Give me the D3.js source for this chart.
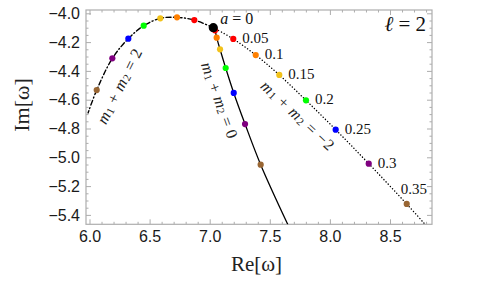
<!DOCTYPE html>
<html>
<head>
<meta charset="utf-8">
<script src="https://cdn.jsdelivr.net/npm/d3@7"></script>
<style>
  body { margin: 0; background: #fff; }
  svg { display: block; }
</style>
</head>
<body>
<svg id="chart" width="498" height="284"></svg>
<script>
// spin values and dot colours (a = 0.05 ... 0.35)
const spins = ['0.05', '0.1', '0.15', '0.2', '0.25', '0.3', '0.35']
const dotColors = ['#ff0000', '#ff8000', '#f2c21a', '#00ff00', '#0000ff', '#800080', '#996633']

// a = 0 (all branches meet here)
const startRe = 7.030
const startIm = -4.100

// m1 + m2 = 0 (solid)
const solidRe = [7.044, 7.058, 7.086, 7.133, 7.200, 7.294, 7.424]
const solidIm = [-4.118, -4.169, -4.250, -4.380, -4.553, -4.769, -5.051]
const solidTail = [7.649, -5.465]

// m1 + m2 = 2 (dot dashed)
const dashRe = [6.872, 6.728, 6.589, 6.451, 6.323, 6.190, 6.060]
const dashIm = [-4.047, -4.028, -4.035, -4.086, -4.176, -4.313, -4.533]
const dashTail = [5.988, -4.692]

// m1 + m2 = -2 (dotted)
const dotRe = [7.196, 7.383, 7.579, 7.801, 8.048, 8.323, 8.639]
const dotIm = [-4.178, -4.290, -4.428, -4.604, -4.808, -5.044, -5.324]
const dotTail = [8.791, -5.465]

// ticks
const xMajor = [6.0, 6.5, 7.0, 7.5, 8.0, 8.5]
const yMajor = [-4.0, -4.2, -4.4, -4.6, -4.8, -5.0, -5.2, -5.4]

const svg = d3.select('#chart')

const frameL = 86, frameR = 432, frameT = 10, frameB = 224.3

// 6.0 -> 89.5px, 120.2 px per unit ; -4.0 -> 13.3px, 144 px per unit
let x = d3.scaleLinear()
    .domain([6 - 3.5 / 120.2, 6 + (frameR - 89.5) / 120.2])
    .range([frameL, frameR])
let y = d3.scaleLinear()
    .domain([-4 + 3.3 / 144, -4 - (frameB - 13.3) / 144])
    .range([frameT, frameB])

let xMinor = d3.range(60, 89).map(d => d / 10).filter(d => !xMajor.some(m => Math.abs(m - d) < 1e-6))
let yMinor = d3.range(-80, -109, -1).map(d => d / 20).filter(d => !yMajor.some(m => Math.abs(m - d) < 1e-6))

const frameColor = '#adadad'

function tickAxes(axisFn, scale, pos, values, size, labels) {
    let g = svg.append('g')
        .attr('transform', pos)
        .call(axisFn(scale).tickValues(values).tickSizeInner(-size).tickSizeOuter(0)
            .tickPadding(labels ? 6 : 0)
            .tickFormat(labels ? (d => d3.format('.1f')(d).replace('-', '\u2212')) : ''))
    g.select('.domain').remove()
    g.selectAll('.tick line').attr('stroke', frameColor)
    g.selectAll('.tick text')
        .style('font-family', '"Liberation Sans", Arial, sans-serif')
        .style('font-size', '16px')
        .attr('fill', '#1a1a1a')
    return g
}

// bottom / top
tickAxes(d3.axisBottom, x, `translate(0,${frameB})`, xMajor, 5, true)
tickAxes(d3.axisBottom, x, `translate(0,${frameB})`, xMinor, 2.5, false)
tickAxes(d3.axisTop, x, `translate(0,${frameT})`, xMajor, 5, false)
tickAxes(d3.axisTop, x, `translate(0,${frameT})`, xMinor, 2.5, false)
// left / right
tickAxes(d3.axisLeft, y, `translate(${frameL},0)`, yMajor, 5, true)
tickAxes(d3.axisLeft, y, `translate(${frameL},0)`, yMinor, 2.5, false)
tickAxes(d3.axisRight, y, `translate(${frameR},0)`, yMajor, 5, false)
tickAxes(d3.axisRight, y, `translate(${frameR},0)`, yMinor, 2.5, false)

svg.append('rect')
    .attr('x', frameL).attr('y', frameT)
    .attr('width', frameR - frameL).attr('height', frameB - frameT)
    .attr('fill', 'none')
    .attr('stroke', frameColor)
    .attr('stroke-width', 1.2)

svg.append('clipPath').attr('id', 'plotClip')
    .append('rect')
    .attr('x', frameL).attr('y', frameT)
    .attr('width', frameR - frameL).attr('height', frameB - frameT)

let plot = svg.append('g').attr('clip-path', 'url(#plotClip)')

let line = d3.line()
    .x(d => x(d[0]))
    .y(d => y(d[1]))
    .curve(d3.curveCatmullRom.alpha(0.5))

function branchPoints(re, im, tail) {
    let pts = [[startRe, startIm]]
    re.forEach((r, i) => pts.push([r, im[i]]))
    pts.push(tail)
    return pts
}

let branches = [
    { re: solidRe, im: solidIm, tail: solidTail, dash: null },
    { re: dashRe, im: dashIm, tail: dashTail, dash: '5,2.5,1,2.5' },
    { re: dotRe, im: dotIm, tail: dotTail, dash: '0.1,3' }
]

branches.forEach(function (b) {
    plot.append('path')
        .attr('d', line(branchPoints(b.re, b.im, b.tail)))
        .attr('fill', 'none')
        .attr('stroke', '#000')
        .attr('stroke-width', b.dash ? 1.4 : 1.3)
        .attr('stroke-linecap', 'round')
        .attr('stroke-dasharray', b.dash)
})

branches.forEach(function (b) {
    plot.selectAll(null)
        .data(b.re.map((r, i) => ({ re: r, im: b.im[i], c: dotColors[i] })))
        .join('circle')
        .attr('cx', d => x(d.re))
        .attr('cy', d => y(d.im))
        .attr('r', 3.1)
        .attr('fill', d => d.c)
})

plot.append('circle')
    .attr('cx', x(startRe))
    .attr('cy', y(startIm))
    .attr('r', 4.6)
    .attr('fill', '#000')

const serif = '"Liberation Serif", "Times New Roman", serif'

// spin labels next to the dotted branch
spins.forEach(function (s, i) {
    let last = i == spins.length - 1
    svg.append('text')
        .attr('x', x(dotRe[i]) + (last ? -6 : 9))
        .attr('y', y(dotIm[i]) + (last ? -10 : 4))
        .style('font-family', serif)
        .style('font-size', '15px')
        .attr('fill', '#111')
        .text(s)
})

let a0 = svg.append('text')
    .attr('x', x(startRe) + 7)
    .attr('y', y(startIm) - 4)
    .style('font-family', serif)
    .style('font-size', '16px')
    .attr('fill', '#111')
a0.append('tspan').style('font-style', 'italic').text('a')
a0.append('tspan').text(' = 0')

let ell = svg.append('text')
    .attr('x', 426)
    .attr('y', 31)
    .attr('text-anchor', 'end')
    .style('font-family', serif)
    .style('font-size', '21px')
    .attr('fill', '#111')
ell.append('tspan').style('font-style', 'italic').text('\u2113')
ell.append('tspan').text(' = 2')

// rotated branch labels m1 + m2 = k
function branchLabel(cx, cy, angle, len, rhs) {
    let t = svg.append('text')
        .attr('transform', `translate(${cx},${cy}) rotate(${angle})`)
        .attr('text-anchor', 'middle')
        .attr('dominant-baseline', 'central')
        .attr('textLength', len)
        .attr('lengthAdjust', 'spacing')
        .style('font-family', serif)
        .style('font-size', '16px')
        .attr('fill', '#222')
    t.append('tspan').style('font-style', 'italic').text('m')
    t.append('tspan').attr('dy', 3).style('font-size', '11px').text('1')
    t.append('tspan').attr('dy', -3).text(' + ')
    t.append('tspan').style('font-style', 'italic').text('m')
    t.append('tspan').attr('dy', 3).style('font-size', '11px').text('2')
    t.append('tspan').attr('dy', -3).text(' = ' + rhs)
}

branchLabel(119, 86, -63.5, 82, '2')
branchLabel(220, 100, 70, 80, '0')
branchLabel(298, 115, 43, 94, '\u22122')

// axis titles
svg.append('text')
    .attr('x', 256.5)
    .attr('y', 271)
    .attr('text-anchor', 'middle')
    .style('font-family', serif)
    .style('font-size', '21px')
    .attr('fill', '#222')
    .text('Re[\u03c9]')

svg.append('text')
    .attr('transform', 'translate(29,105) rotate(-90)')
    .attr('text-anchor', 'middle')
    .style('font-family', serif)
    .style('font-size', '22px')
    .attr('fill', '#222')
    .text('Im[\u03c9]')
</script>
</body>
</html>
